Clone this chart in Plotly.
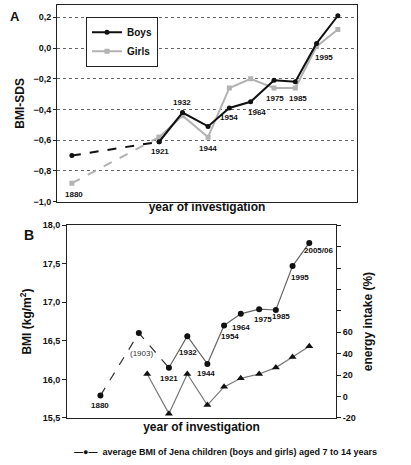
import plotly.graph_objects as go

# ---- Panel A data: BMI-SDS by year of investigation ----
years_a = [1880, 1921, 1932, 1944, 1954, 1964, 1975, 1985, 1995, 2005]
boys_sds = [-0.70, -0.61, -0.42, -0.51, -0.39, -0.35, -0.21, -0.22, 0.03, 0.21]
girls_sds = [-0.88, -0.58, -0.44, -0.58, -0.26, -0.20, -0.26, -0.26, 0.01, 0.12]
labels_a = ["1880", "1921", "1932", "1944", "1954", "1964", "1975", "1985", "1995"]

# ---- Panel B data: average BMI and energy intake ----
years_b = [1880, 1903, 1921, 1932, 1944, 1954, 1964, 1975, 1985, 1995, 2005]
bmi_b = [15.79, 16.60, 16.15, 16.56, 16.20, 16.70, 16.85, 16.91, 16.90, 17.47, 17.77]
labels_b = ["1880", "(1903)", "1921", "1932", "1944", "1954", "1964", "1975", "1985", "1995", "2005/06"]
energy_years = [1908, 1921, 1932, 1944, 1954, 1964, 1975, 1985, 1995, 2005]
energy_pct = [21, -16, 21, -8, 9, 17, 21, 27, 37, 47]
energy_tickvals = [-20, 0, 20, 40, 60, 80, 100, 120, 140, 160]
energy_ticktext = ["-20", "0", "20", "40", "60", "", "", "", "", ""]

FONT = "Liberation Sans, Arial, sans-serif"
INK = "#111111"
GIRL = "#b2b2b2"

fig = go.Figure()

# Panel A: dashed early segments
fig.add_trace(go.Scatter(x=years_a[:2], y=boys_sds[:2], mode="lines+markers",
                         line=dict(color=INK, width=2, dash="dash"),
                         marker=dict(symbol="circle", size=5, color=INK),
                         showlegend=False, xaxis="x", yaxis="y"))
fig.add_trace(go.Scatter(x=years_a[:2], y=girls_sds[:2], mode="lines+markers",
                         line=dict(color=GIRL, width=2, dash="dash"),
                         marker=dict(symbol="square", size=5, color=GIRL),
                         showlegend=False, xaxis="x", yaxis="y"))
fig.add_trace(go.Scatter(x=years_a[1:], y=girls_sds[1:], mode="lines+markers", name="Girls",
                         line=dict(color=GIRL, width=2),
                         marker=dict(symbol="square", size=5, color=GIRL),
                         xaxis="x", yaxis="y"))
fig.add_trace(go.Scatter(x=years_a[1:], y=boys_sds[1:], mode="lines+markers", name="Boys",
                         line=dict(color=INK, width=2),
                         marker=dict(symbol="circle", size=5, color=INK),
                         xaxis="x", yaxis="y"))

# Panel B: BMI
fig.add_trace(go.Scatter(x=years_b[:3], y=bmi_b[:3], mode="lines",
                         line=dict(color="#333333", width=1.2, dash="dash"),
                         showlegend=False, xaxis="x2", yaxis="y2"))
fig.add_trace(go.Scatter(x=years_b[2:], y=bmi_b[2:], mode="lines",
                         line=dict(color="#666666", width=1.2),
                         showlegend=False, xaxis="x2", yaxis="y2"))
fig.add_trace(go.Scatter(x=years_b, y=bmi_b, mode="markers",
                         marker=dict(symbol="circle", size=6, color=INK),
                         showlegend=False, xaxis="x2", yaxis="y2"))
# Panel B: energy intake
fig.add_trace(go.Scatter(x=energy_years, y=energy_pct, mode="lines+markers",
                         line=dict(color="#777777", width=1.2),
                         marker=dict(symbol="triangle-up", size=7, color=INK),
                         showlegend=False, xaxis="x2", yaxis="y3"))

ann = []
a_anchor = [
    (labels_a[0], years_a[0], girls_sds[0], 2, -11),
    (labels_a[1], years_a[1], boys_sds[1], 1, -10),
    (labels_a[2], years_a[2], boys_sds[2], -1, 10),
    (labels_a[3], years_a[3], girls_sds[3], 0, -11),
    (labels_a[4], years_a[4], boys_sds[4], 0, -10),
    (labels_a[5], years_a[5], boys_sds[5], 6, -11),
    (labels_a[6], years_a[6], girls_sds[6], 1, -11),
    (labels_a[7], years_a[7], girls_sds[7], 3, -11),
    (labels_a[8], years_a[8], girls_sds[8], 7, -11),
]
for t, x, y, xs, ys in a_anchor:
    ann.append(dict(x=x, y=y, xref="x", yref="y", text=t, showarrow=False,
                    xshift=xs, yshift=ys, font=dict(family=FONT, size=8, color=INK, weight="bold")))

b_shift = [(0, -10), (3, -20), (0, -11), (1, -16), (-1, -10), (6, -11), (0, -14),
           (4, -10), (5, -7), (7, -11), (9, -8)]
for t, x, y, (xs, ys) in zip(labels_b, years_b, bmi_b, b_shift):
    normal = t.startswith("(")
    ann.append(dict(x=x, y=y, xref="x2", yref="y2", text=t, showarrow=False,
                    xshift=xs, yshift=ys,
                    font=dict(family=FONT, size=8, color="#333" if normal else INK,
                              weight="normal" if normal else "bold")))

ann.append(dict(x=8 / 411, y=1 - 2 / 465, xref="paper", yref="paper", text="A", showarrow=False,
                xanchor="left", yanchor="top", font=dict(family=FONT, size=13, color=INK, weight="bold")))
ann.append(dict(x=22 / 411, y=1 - 225 / 465, xref="paper", yref="paper", text="B", showarrow=False,
                xanchor="left", yanchor="top", font=dict(family=FONT, size=14, color=INK, weight="bold")))
ann.append(dict(x=72 / 411, y=1 - 457 / 465, xref="paper", yref="paper",
                text="—●—  average BMI of Jena children (boys and girls) aged 7 to 14 years",
                showarrow=False, xanchor="left", yanchor="middle",
                font=dict(family=FONT, size=9, color=INK, weight="bold")))

tickfont = dict(family=FONT, size=9, color=INK, weight="bold")
titlefont = dict(family=FONT, size=12, color=INK, weight="bold")

fig.update_layout(
    width=411, height=465,
    margin=dict(l=0, r=0, t=0, b=0),
    paper_bgcolor="white", plot_bgcolor="white",
    separators=", ",
    annotations=ann,
    legend=dict(x=86 / 411, y=1 - 12 / 465, xanchor="left", yanchor="top",
                bordercolor="#222", borderwidth=1, bgcolor="white",
                font=dict(family=FONT, size=10, color=INK, weight="bold"),
                traceorder="reversed", itemwidth=30, tracegroupgap=0),
    xaxis=dict(domain=[57 / 411, 357 / 411], range=[1873, 2014], showticklabels=False,
               showgrid=False, zeroline=False, showline=True, linecolor="#222", linewidth=1,
               mirror=True, ticks="",
               title=dict(text="year of investigation", font=titlefont, standoff=0)),
    yaxis=dict(domain=[1 - 201 / 465, 1.0], range=[-1.0, 0.28],
               tickvals=[-1.0, -0.8, -0.6, -0.4, -0.2, 0.0, 0.2], tickformat=".1f",
               tickfont=tickfont, ticks="outside", ticklen=3, tickcolor="#222",
               showgrid=True, griddash="dot", gridcolor="#666", gridwidth=1,
               zeroline=False, showline=True, linecolor="#222", linewidth=1, mirror=True,
               title=dict(text="BMI-SDS", font=titlefont, standoff=6)),
    xaxis2=dict(domain=[67 / 411, 336 / 411], range=[1860, 2021], showticklabels=False,
                showgrid=False, zeroline=False, showline=True, linecolor="#222", linewidth=1,
                mirror=True, ticks="", anchor="y2",
                title=dict(text="year of investigation", font=titlefont, standoff=4)),
    yaxis2=dict(domain=[1 - 422 / 465, 1 - 225 / 465], range=[15.5, 18.0],
                tickvals=[15.5, 16.0, 16.5, 17.0, 17.5, 18.0], tickformat=".1f",
                tickfont=tickfont, ticks="outside", ticklen=4, tickcolor="#222",
                showgrid=False, zeroline=False, showline=True, linecolor="#222", linewidth=1,
                anchor="x2",
                title=dict(text="BMI (kg/m<sup>2</sup>)", font=titlefont, standoff=8)),
    yaxis3=dict(overlaying="y2", side="right", anchor="x2", range=[-20, 160],
                tickvals=energy_tickvals, ticktext=energy_ticktext,
                tickfont=tickfont, ticks="outside", ticklen=4, tickcolor="#222",
                showgrid=False, zeroline=False, showline=True, linecolor="#222", linewidth=1,
                title=dict(text="energy intake (%)", font=titlefont, standoff=8)),
)

fig.write_html("out.html")
